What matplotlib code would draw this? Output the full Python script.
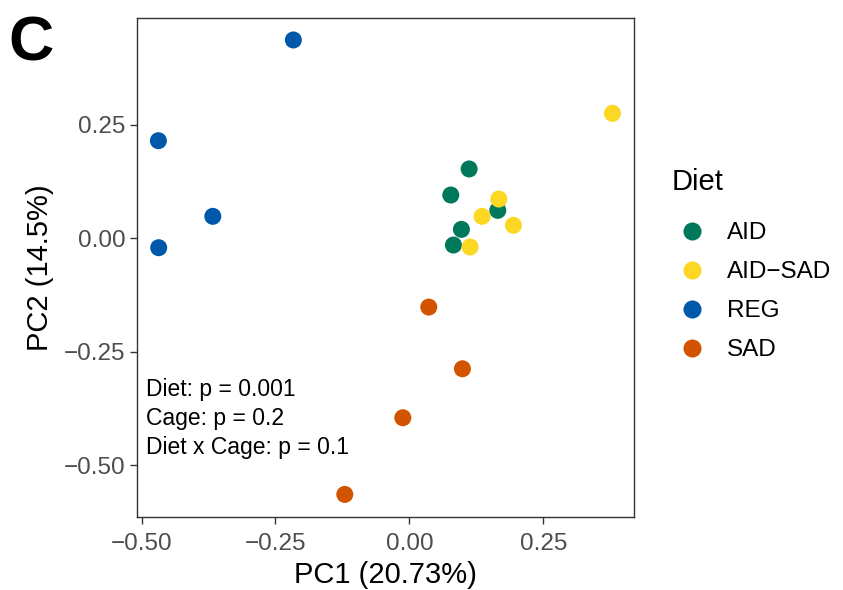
import matplotlib
matplotlib.use("Agg")
import matplotlib.pyplot as plt
from matplotlib.lines import Line2D

plt.rcParams['font.family'] = ['Liberation Sans', 'DejaVu Sans']

diets = ["AID", "AID\u2212SAD", "REG", "SAD"]
colors = ["#00785A", "#FCD824", "#0058AA", "#D35400"]

aid_x = [0.1115, 0.0773, 0.165, 0.0971, 0.0822]
aid_y = [0.153, 0.0955, 0.0617, 0.0198, -0.0148]
aidsad_x = [0.379, 0.1669, 0.1357, 0.1942, 0.1133]
aidsad_y = [0.2757, 0.0867, 0.0485, 0.0287, -0.0192]
reg_x = [-0.2166, -0.4686, -0.367, -0.468]
reg_y = [0.4375, 0.2153, 0.0485, -0.0207]
sad_x = [0.0362, 0.099, -0.0123, -0.1206]
sad_y = [-0.1516, -0.2877, -0.3957, -0.5648]

xs = [aid_x, aidsad_x, reg_x, sad_x]
ys = [aid_y, aidsad_y, reg_y, sad_y]

ticks = [-0.50, -0.25, 0.00, 0.25]
tick_labels = ["\u22120.50", "\u22120.25", "0.00", "0.25"]

stats_text = "Diet: p = 0.001\nCage: p = 0.2\nDiet x Cage: p = 0.1"

fig = plt.figure(figsize=(8.43, 5.90), dpi=100)
ax = fig.add_axes([0.1622, 0.1242, 0.5900, 0.8448])

order = [2, 0, 1, 3]
for i in order:
    ax.scatter(xs[i], ys[i], s=150, color=colors[i], edgecolors='none', zorder=3)

ax.set_xlim(-0.509, 0.4195)
ax.set_ylim(-0.614, 0.4853)
ax.set_xticks(ticks)
ax.set_xticklabels(tick_labels)
ax.set_yticks(ticks)
ax.set_yticklabels(tick_labels)
ax.tick_params(axis='both', labelsize=17.5, labelcolor='#4D4D4D', color='#333333',
               length=5, width=1.0)
ax.tick_params(axis='x', pad=7)
ax.tick_params(axis='y', pad=3)
for sp in ax.spines.values():
    sp.set_color('#333333')
    sp.set_linewidth(1.0)

ax.set_xlabel("PC1 (20.73%)", fontsize=21, color='black', labelpad=4)
ax.set_ylabel("PC2 (14.5%)", fontsize=21, color='black', labelpad=7)

ax.text(0.0187, 0.278, stats_text, transform=ax.transAxes, fontsize=16.5,
        va='top', ha='left', linespacing=1.32, color='black')

fig.text(0.010, 0.975, "C", fontsize=45, fontweight='bold', va='top', ha='left')

fig.text(672 / 843, 1 - 182 / 590, "Diet", fontsize=21, va='center', ha='left')

handles = [Line2D([], [], marker='o', linestyle='none', markersize=13,
                  markerfacecolor=c, markeredgecolor='none') for c in colors]
leg = fig.legend(handles, diets, loc='upper left',
                 bbox_to_anchor=(680 / 843, 1 - 222 / 590), frameon=False,
                 fontsize=17.5, labelspacing=0.7,
                 handletextpad=0.95, handlelength=1.0, borderpad=0,
                 borderaxespad=0)

fig.savefig("out.png", dpi=100)
